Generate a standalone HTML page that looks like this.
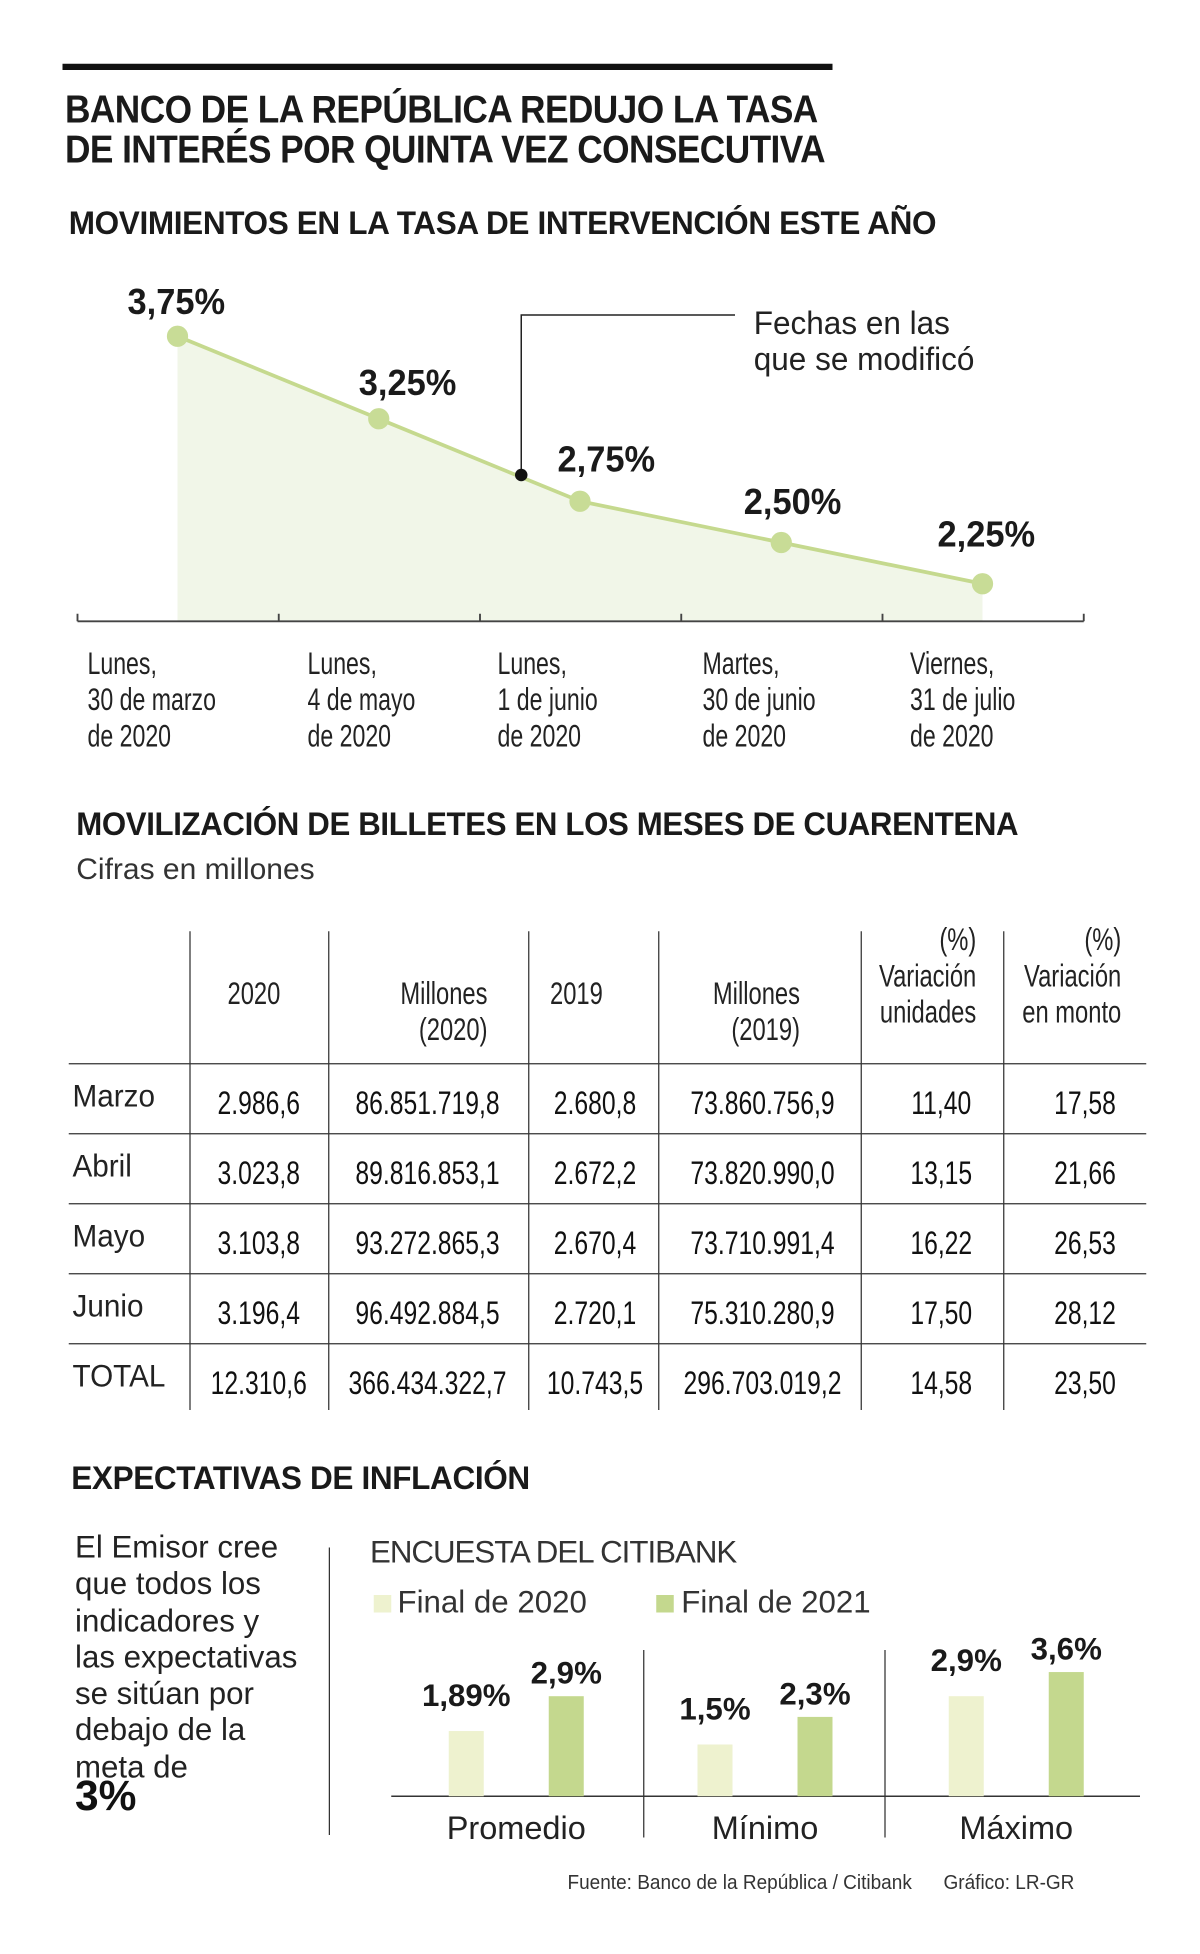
<!DOCTYPE html>
<html><head><meta charset="utf-8">
<style>
html,body{margin:0;padding:0;background:#fff;}
body{width:1200px;height:1953px;overflow:hidden;}
#wrap{width:960px;height:1563px;transform:scale(1.25);transform-origin:0 0;position:relative;font-family:"Liberation Sans",sans-serif;color:#1a1a1a;}
.abs{position:absolute;white-space:nowrap;}
.h1{font-weight:bold;font-size:31px;line-height:32px;letter-spacing:-0.5px;transform:scaleX(0.91);transform-origin:0 0;}
.h2{font-weight:bold;font-size:26px;letter-spacing:-0.3px;transform-origin:0 0;}
svg text{font-family:"Liberation Sans",sans-serif;}
</style></head><body>
<div id="wrap">
<div class="abs" style="left:50px;top:51px;width:616px;height:5px;background:#111"></div>
<div class="abs h1" style="left:52px;top:72px">BANCO DE LA REPÚBLICA REDUJO LA TASA<br>DE INTERÉS POR QUINTA VEZ CONSECUTIVA</div>
<div class="abs h2" style="left:55px;top:163px;transform:scaleX(0.97)">MOVIMIENTOS EN LA TASA DE INTERVENCIÓN ESTE AÑO</div>

<svg class="abs" style="left:0;top:0" width="960" height="620" id="lineChart"></svg>

<div class="abs h2" style="left:61px;top:644px;transform:scaleX(0.96)">MOVILIZACIÓN DE BILLETES EN LOS MESES DE CUARENTENA</div>
<div class="abs" style="left:61px;top:682px;font-size:24px;color:#333">Cifras en millones</div>

<svg class="abs" style="left:0;top:730px" width="960" height="410" id="table"></svg>

<div class="abs h2" style="left:57px;top:1167px;transform:scaleX(0.97)">EXPECTATIVAS DE INFLACIÓN</div>
<div class="abs" style="left:60px;top:1224px;font-size:25px;line-height:29.3px;color:#222">El Emisor cree<br>que todos los<br>indicadores y<br>las expectativas<br>se sitúan por<br>debajo de la<br>meta de</div>
<div class="abs" style="left:60px;top:1418px;font-size:34px;font-weight:bold;color:#111">3%</div>
<div class="abs" style="left:263px;top:1238px;width:1px;height:230px;background:#333"></div>
<div class="abs" style="left:296px;top:1228px;font-size:25px;color:#333;letter-spacing:-0.8px">ENCUESTA DEL CITIBANK</div>
<div class="abs" style="left:299px;top:1276px;width:14px;height:14px;background:#eef2cf"></div>
<div class="abs" style="left:318px;top:1268px;font-size:25px;color:#333">Final de 2020</div>
<div class="abs" style="left:525px;top:1276px;width:14px;height:14px;background:#c4d88e"></div>
<div class="abs" style="left:545px;top:1268px;font-size:25px;color:#333">Final de 2021</div>
<svg class="abs" style="left:0;top:0" width="960" height="1563" id="barChart"></svg>

<div class="abs" style="left:454px;top:1498px;font-size:16px;color:#333;transform:scaleX(0.95);transform-origin:0 0">Fuente: Banco de la República / Citibank &nbsp;&nbsp;&nbsp;&nbsp;&nbsp;Gráfico: LR-GR</div>
</div>
<script>
const NS="http://www.w3.org/2000/svg";
function mk(p,tag,attrs,txt){const e=document.createElementNS(NS,tag);for(const k in attrs)e.setAttribute(k,attrs[k]);if(txt!==undefined)e.textContent=txt;p.appendChild(e);return e;}
// condensed text: draws text at (x,y) horizontally scaled by sx
function ctext(p,x,y,sx,attrs,txt){const a=Object.assign({x:0,y:0,transform:"translate("+x+","+y+") scale("+sx+",1)"},attrs);return mk(p,'text',a,txt);}

// ---- line chart data
const rateValues=[3.75,3.25,2.75,2.50,2.25];
const rateLabels=["3,75%","3,25%","2,75%","2,50%","2,25%"];
const dateLabels=[["Lunes,","30 de marzo","de 2020"],["Lunes,","4 de mayo","de 2020"],["Lunes,","1 de junio","de 2020"],["Martes,","30 de junio","de 2020"],["Viernes,","31 de julio","de 2020"]];
const lc=document.getElementById('lineChart');
const xR=i=>142+i*161;
const yR=v=>269+(3.75-v)*132;
const base=497;
let d="M"+xR(0)+","+base;
rateValues.forEach((v,i)=>d+=" L"+xR(i)+","+yR(v));
d+=" L"+xR(4)+","+base+" Z";
let a=mk(lc,'path',{d:d,fill:'#f1f6e8'});


let ln=mk(lc,'polyline',{points:rateValues.map((v,i)=>xR(i)+","+yR(v)).join(" "),fill:'none',stroke:'#c5d98e','stroke-width':3});


let ax=mk(lc,'line',{x1:62,y1:base,x2:867,y2:base,stroke:'#444','stroke-width':1.5});


for(let t=0;t<6;t++){const tk=mk(lc,'line',{x1:62+t*161,y1:base-6,x2:62+t*161,y2:base,stroke:'#444','stroke-width':1.5});

}
const lblOff=[[-40,-18],[-16,-19],[-18,-24],[-30,-23],[-36,-30]];
rateValues.forEach((v,i)=>{
 const c=mk(lc,'circle',{cx:xR(i),cy:yR(v),r:8.5,fill:'#c8dc96'});
 
 
 const t=ctext(lc,xR(i)+lblOff[i][0],yR(v)+lblOff[i][1],0.95,{'font-size':29,'font-weight':'bold',fill:'#1a1a1a'},rateLabels[i]);
 
 
});
const dlx=[70,246,398,562,728];
dateLabels.forEach((ls,i)=>ls.forEach((s,j)=>{const t=ctext(lc,dlx[i],539+j*29,0.74,{'font-size':25,fill:'#222'},s);

}));
let an=mk(lc,'polyline',{points:"417,380 417,252 588,252",fill:'none',stroke:'#222','stroke-width':1.2});


let ad=mk(lc,'circle',{cx:417,cy:380,r:5,fill:'#111'});


["Fechas en las","que se modificó"].forEach((s,j)=>{const t=ctext(lc,603,267+j*29,0.97,{'font-size':26,fill:'#222'},s);

});

// ---- table
const tb=document.getElementById('table');
const months=["Marzo","Abril","Mayo","Junio","TOTAL"];
const col2020=["2.986,6","3.023,8","3.103,8","3.196,4","12.310,6"];
const mill2020=["86.851.719,8","89.816.853,1","93.272.865,3","96.492.884,5","366.434.322,7"];
const col2019=["2.680,8","2.672,2","2.670,4","2.720,1","10.743,5"];
const mill2019=["73.860.756,9","73.820.990,0","73.710.991,4","75.310.280,9","296.703.019,2"];
const varU=["11,40","13,15","16,22","17,50","14,58"];
const varM=["17,58","21,66","26,53","28,12","23,50"];
const vx=[152,263,423,527,689,803];
vx.forEach(x=>{const l=mk(tb,'line',{x1:x,y1:15,x2:x,y2:398,stroke:'#333','stroke-width':1});

});
for(let r=0;r<5;r++){const y=121+r*56;const l=mk(tb,'line',{x1:55,y1:y,x2:917,y2:y,stroke:'#333','stroke-width':1});

}
const hdr=[[182,["","2020"],'start'],[390,["Millones","(2020)"],'end'],[440,["","2019"],'start'],[640,["Millones","(2019)"],'end'],[781,["(%)","Variación","unidades"],'end'],[897,["(%)","Variación","en monto"],'end']];
hdr.forEach(h=>{const lines=h[1];const n=lines.length;lines.forEach((s,j)=>{const y=(n===3?30:73)+j*29;if(n===2&&j===0)return;const yy=(n===2)?73+29*(j===1&&lines[0]===""?0:j):y;const t=ctext(tb,h[0],(n===2&&lines[0]==="")?73:yy,0.76,{'font-size':25,'text-anchor':h[2],fill:'#222'},s);

});
 if(n===2&&lines[0]!==""){const t=ctext(tb,h[0],73,0.76,{'font-size':25,'text-anchor':h[2],fill:'#222'},lines[0]);
 
 }
});
const cols=[[col2020,207],[mill2020,342],[col2019,476],[mill2019,610],[varU,753],[varM,868]];
months.forEach((m,r)=>{
 const y=156+r*56;
 const t=ctext(tb,58,y-1,0.95,{'font-size':25,fill:'#222'},m);
 
 
 cols.forEach(c=>{const tt=ctext(tb,c[1],y+5,0.76,{'font-size':26,'text-anchor':'middle',fill:'#111'},c[0][r]);
 
 });
});

// ---- bar chart
const bc=document.getElementById('barChart');
const groups=["Promedio","Mínimo","Máximo"];
const v2020=[1.89,1.5,2.9];
const v2021=[2.9,2.3,3.6];
const lab2020=["1,89%","1,5%","2,9%"];
const lab2021=["2,9%","2,3%","3,6%"];
const bBase=1437;
const yB=v=>bBase-v*27.6;
const gx=[359,558,759];
let bl=mk(bc,'line',{x1:313,y1:bBase,x2:912,y2:bBase,stroke:'#333','stroke-width':1.2});


[515,708].forEach(x=>{const l=mk(bc,'line',{x1:x,y1:1320,x2:x,y2:1470,stroke:'#333','stroke-width':1});

});
groups.forEach((g,i)=>{
 const x1=gx[i],x2=gx[i]+80;
 const r1=mk(bc,'rect',{x:x1,y:yB(v2020[i]),width:28,height:bBase-yB(v2020[i]),fill:'#eef2cf'});
 
 
 const r2=mk(bc,'rect',{x:x2,y:yB(v2021[i]),width:28,height:bBase-yB(v2021[i]),fill:'#c4d88e'});
 
 
 const t1=mk(bc,'text',{x:x1+14,y:yB(v2020[i])-20,'font-size':25,'font-weight':'bold','text-anchor':'middle',fill:'#1a1a1a'},lab2020[i]);
 
 
 const t2=mk(bc,'text',{x:x2+14,y:yB(v2021[i])-10,'font-size':25,'font-weight':'bold','text-anchor':'middle',fill:'#1a1a1a'},lab2021[i]);
 
 
 const gl=mk(bc,'text',{x:x1+54,y:1471,'font-size':26,'text-anchor':'middle',fill:'#222'},g);
 
 
});
</script>
</body></html>
